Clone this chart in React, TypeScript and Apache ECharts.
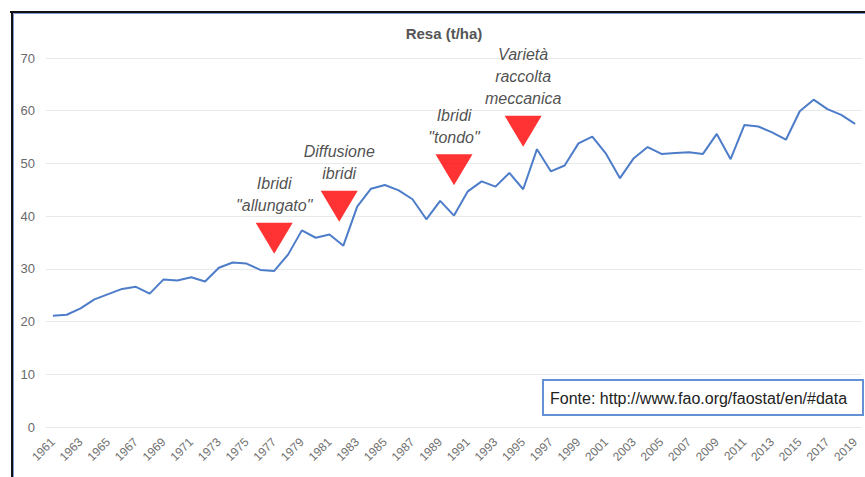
import React, { useEffect, useRef } from "react";
import * as echarts from "echarts";

const years: string[] = Array.from({ length: 59 }, (_, i) => String(1961 + i));

const resa: number[] = [
  21.1, 21.3, 22.5, 24.2, 25.2, 26.2, 26.6, 25.3, 28.0, 27.8,
  28.4, 27.6, 30.2, 31.2, 31.0, 29.8, 29.6, 32.7, 37.3, 35.9,
  36.5, 34.4, 41.8, 45.2, 45.9, 44.9, 43.2, 39.4, 42.9, 40.1,
  44.7, 46.6, 45.6, 48.2, 45.1, 52.7, 48.5, 49.6, 53.8, 55.1,
  51.8, 47.2, 51.0, 53.1, 51.8, 52.0, 52.1, 51.8, 55.6, 50.8,
  57.3, 57.0, 55.9, 54.5, 59.9, 62.1, 60.3, 59.2, 57.5,
];

const annotationYears: number[] = [1977, 1981.7, 1990, 1995];
const annotationLevels: number[] = [35.8, 41.9, 48.8, 56.1];
const annotationTexts: string[] = [
  'Ibridi\n"allungato"',
  "Diffusione\nibridi",
  'Ibridi\n"tondo"',
  "Varietà\nraccolta\nmeccanica",
];

const titleText = "Resa (t/ha)";
const sourceText = "Fonte: http://www.fao.org/faostat/en/#data";

const FONT = "'Liberation Sans', Arial, Helvetica, sans-serif";

export default function App() {
  const ref = useRef<HTMLDivElement>(null);

  useEffect(() => {
    if (!ref.current) return;
    const chart = echarts.init(ref.current, null, { renderer: "svg" });
    chart.setOption({
      animation: false,
      backgroundColor: "#ffffff",
      textStyle: { fontFamily: FONT },
      grid: { left: 46, right: 3, top: 58, bottom: 50, containLabel: false },
      xAxis: [
        {
          type: "category",
          data: years,
          boundaryGap: true,
          axisLine: { show: false },
          axisTick: { show: false },
          axisLabel: {
            interval: 1,
            rotate: 45,
            fontSize: 12,
            color: "#707070",
            margin: 13,
            fontFamily: FONT,
          },
          splitLine: { show: false },
        },
        {
          type: "value",
          min: 1960.5,
          max: 2019.5,
          show: false,
        },
      ],
      yAxis: {
        type: "value",
        min: 0,
        max: 70,
        interval: 10,
        axisLine: { show: false },
        axisTick: { show: false },
        axisLabel: { fontSize: 13, color: "#6a6a6a", margin: 11, fontFamily: FONT },
        splitLine: { lineStyle: { color: "#e9e9e9", width: 1 } },
      },
      series: [
        {
          type: "line",
          data: resa,
          xAxisIndex: 0,
          symbol: "none",
          lineStyle: { color: "#4d7cc9", width: 2 },
          z: 2,
        },
        {
          type: "scatter",
          xAxisIndex: 1,
          data: annotationYears.map((y, i) => ({
            value: [y, annotationLevels[i]],
            name: annotationTexts[i],
          })),
          symbol: "triangle",
          symbolRotate: 180,
          symbolSize: [37, 31],
          itemStyle: { color: "#ff0000" },
          label: {
            show: true,
            position: "top",
            distance: 6,
            formatter: (p: any) => p.name,
            fontStyle: "italic",
            fontSize: 16,
            lineHeight: 22,
            color: "#222222",
            align: "center",
            fontFamily: FONT,
          },
          z: 3,
        },
      ],
      graphic: [
        {
          type: "text",
          x: 444,
          y: 33,
          style: {
            text: titleText,
            fontSize: 15,
            fontWeight: "bold",
            fill: "#555555",
            align: "center",
            verticalAlign: "middle",
            fontFamily: FONT,
          },
          z: 10,
        },
        {
          type: "rect",
          shape: { x: 543, y: 380, width: 320, height: 35 },
          style: { fill: "#ffffff", stroke: "#6490d6", lineWidth: 2 },
          z: 10,
        },
        {
          type: "text",
          x: 550,
          y: 398,
          style: {
            text: sourceText,
            fontSize: 16,
            fill: "#222222",
            verticalAlign: "middle",
            fontFamily: FONT,
          },
          z: 11,
        },
        {
          type: "line",
          shape: { x1: 10, y1: 12, x2: 865, y2: 12 },
          style: { stroke: "#111111", lineWidth: 2 },
          z: 12,
        },
        {
          type: "line",
          shape: { x1: 13, y1: 13.5, x2: 865, y2: 13.5 },
          style: { stroke: "#7f9bd0", lineWidth: 1 },
          z: 12,
        },
        {
          type: "line",
          shape: { x1: 12, y1: 11, x2: 12, y2: 477 },
          style: { stroke: "#111111", lineWidth: 2 },
          z: 12,
        },
        {
          type: "line",
          shape: { x1: 13.5, y1: 13, x2: 13.5, y2: 477 },
          style: { stroke: "#7f9bd0", lineWidth: 1 },
          z: 12,
        },
      ],
    });
    return () => chart.dispose();
  }, []);

  return (
    <div
      ref={ref}
      style={{ position: "fixed", left: 0, top: 0, width: 865, height: 477 }}
    />
  );
}
